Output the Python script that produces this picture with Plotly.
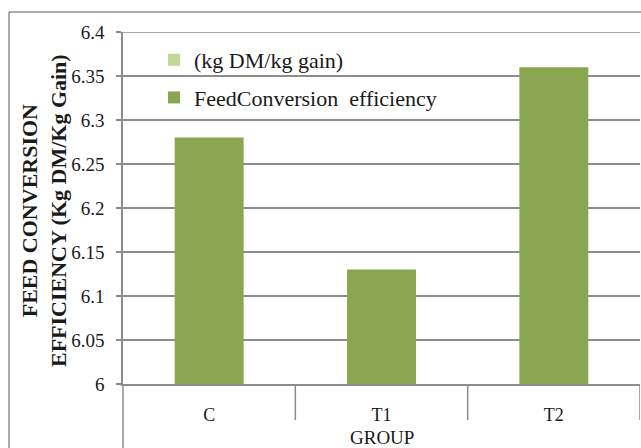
import plotly.graph_objects as go

# ---- data ----
groups = ["C", "T1", "T2"]
fce_values = [6.28, 6.13, 6.36]
unit_series = [None, None, None]  # legend-only series "(kg DM/kg gain)"
y_ticks = [6.0, 6.05, 6.1, 6.15, 6.2, 6.25, 6.3, 6.35, 6.4]
y_tick_text = ["6", "6.05", "6.1", "6.15", "6.2", "6.25", "6.3", "6.35", "6.4"]

SERIF = "Liberation Serif"
GRID = "#8c8c8c"
TXT = "#1a1a1a"

fig = go.Figure()
fig.add_trace(go.Bar(
    x=groups, y=unit_series, name="(kg DM/kg gain)",
    marker=dict(color="#C3D69B", line=dict(width=0)),
    legendgroup="a",
))
fig.add_trace(go.Bar(
    x=groups, y=fce_values, name="FeedConversion\u00a0 efficiency",
    marker=dict(color="#8AA650", line=dict(width=0)),
    legendgroup="b",
))

W, H = 641, 448
L, R, T, B = 123, 1, 32, 64
pw, ph = W - L - R, H - T - B

def px_x(p):
    return (p - L) / pw

def px_y(p):
    return (H - B - p) / ph

fig.update_layout(
    width=W, height=H,
    margin=dict(l=L, r=R, t=T, b=B, pad=0),
    paper_bgcolor="white", plot_bgcolor="white",
    barmode="overlay", bargap=0.6,
    font=dict(family=SERIF, color=TXT),
    showlegend=True,
    legend=dict(
        x=px_x(154), y=px_y(39), xanchor="left", yanchor="top",
        bgcolor="rgba(0,0,0,0)", borderwidth=0,
        font=dict(family=SERIF, size=22, color=TXT),
        tracegroupgap=6, traceorder="grouped",
    ),
    xaxis=dict(
        type="category", showgrid=False, showline=True, linecolor=GRID, linewidth=1.5,
        ticks="", tickfont=dict(family=SERIF, size=18, color=TXT),
        ticklabelstandoff=14, range=[-0.5, 2.5],
    ),
    yaxis=dict(
        range=[6.0, 6.4], tickvals=y_ticks, ticktext=y_tick_text,
        showgrid=True, gridcolor=GRID, gridwidth=1.5,
        showline=True, linecolor=GRID, linewidth=1.5,
        ticks="outside", ticklen=5, tickcolor=GRID, tickwidth=1.5,
        tickfont=dict(family=SERIF, size=19, color=TXT),
        ticklabelstandoff=8, zeroline=False,
    ),
    shapes=[
        # outer chart border
        dict(type="rect", xref="paper", yref="paper",
             x0=px_x(9), x1=px_x(700), y0=px_y(520), y1=px_y(12),
             line=dict(color="#595959", width=1), fillcolor="rgba(0,0,0,0)", layer="below"),
        # top gridline
        dict(type="line", xref="paper", yref="y", x0=0, x1=1, y0=6.4, y1=6.4,
             line=dict(color=GRID, width=1.5)),
        # value axis line extended below the category axis
        dict(type="line", xref="paper", yref="paper", x0=0, x1=0, y0=0, y1=px_y(470),
             line=dict(color=GRID, width=1.5)),
    ] + [
        dict(type="line", xref="x", yref="paper", x0=b, x1=b, y0=0, y1=px_y(420),
             line=dict(color=GRID, width=1.5))
        for b in [0.5, 1.5, 2.5]
    ],
    annotations=[
        dict(text="<b>FEED CONVERSION<br>EFFICIENCY (Kg DM/Kg Gain)</b>",
             xref="paper", yref="paper", x=px_x(44), y=px_y(211),
             xanchor="center", yanchor="middle", textangle=-90, showarrow=False,
             font=dict(family=SERIF, size=22, color=TXT)),
        dict(text="GROUP", xref="paper", yref="paper", x=0.5, y=px_y(436),
             xanchor="center", yanchor="top", showarrow=False, yshift=11,
             font=dict(family=SERIF, size=19, color=TXT)),
    ],
)

fig.write_html("out.html", config={"displayModeBar": False},
               post_script="document.body.style.margin='0';")
